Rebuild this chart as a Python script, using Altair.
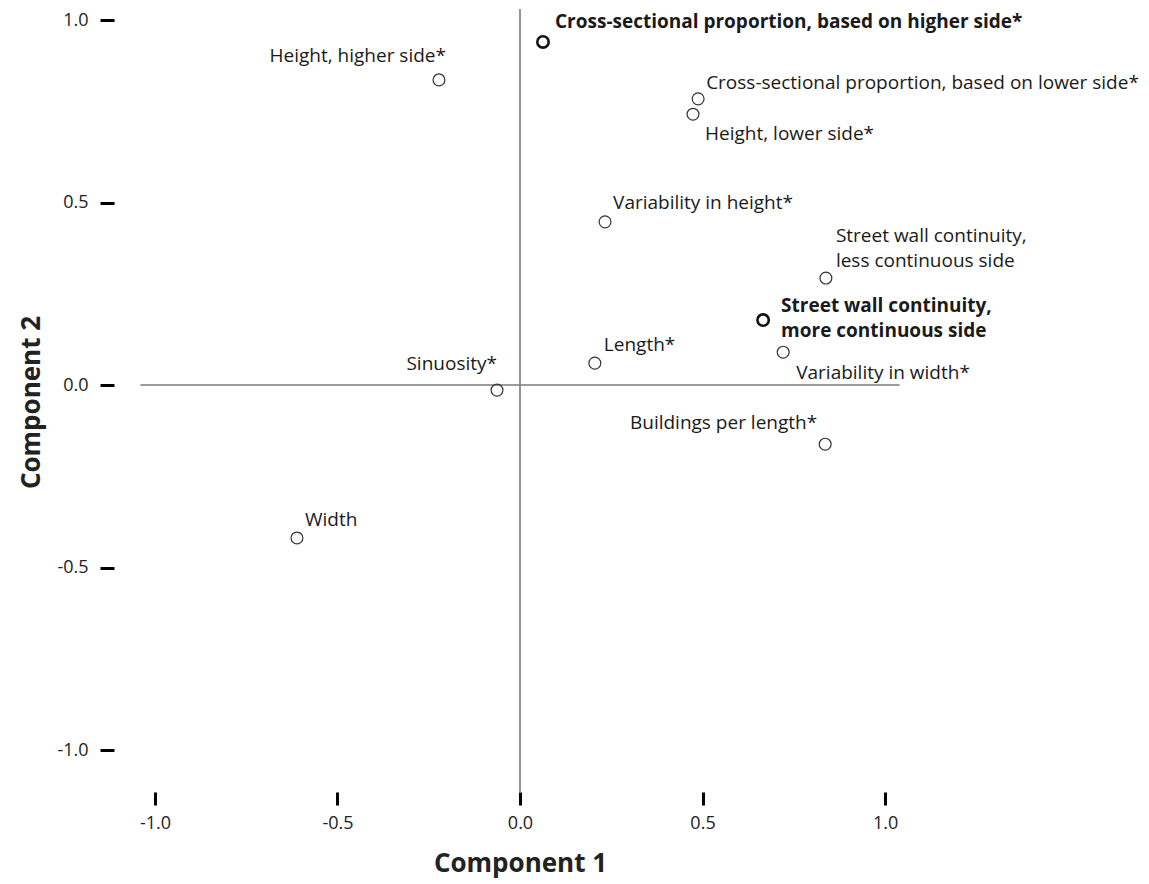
import altair as alt
import pandas as pd

names = [
    "Cross-sectional proportion, based on higher side*",
    "Height, higher side*",
    "Cross-sectional proportion, based on lower side*",
    "Height, lower side*",
    "Variability in height*",
    "Street wall continuity,\nless continuous side",
    "Street wall continuity,\nmore continuous side",
    "Variability in width*",
    "Length*",
    "Sinuosity*",
    "Buildings per length*",
    "Width",
]
comp1 = [0.063, -0.222, 0.488, 0.474, 0.233, 0.838, 0.666, 0.721, 0.205, -0.063, 0.836, -0.611]
comp2 = [0.940, 0.836, 0.784, 0.742, 0.447, 0.293, 0.178, 0.090, 0.060, -0.014, -0.162, -0.419]
bold = [True, False, False, False, False, False, True, False, False, False, False, False]

ticks = [-1.0, -0.5, 0.0, 0.5, 1.0]

# reference lines through the origin
hline_x = [-1.04, 1.04]
vline_y = [-1.115, 1.03]

df = pd.DataFrame({"id": list(range(len(names))), "name": names,
                   "c1": comp1, "c2": comp2, "bold": bold})

FONT = "Open Sans"
LABEL_EXPR = "replace(format(datum.value, '.1f'), '\u2212', '-')"

xscale = alt.Scale(domain=[-1.041, 1.041], nice=False, zero=False)
yscale = alt.Scale(domain=[-1.115, 1.022], nice=False, zero=False)

xaxis = alt.Axis(values=ticks, labelExpr=LABEL_EXPR, domain=False, grid=False,
                 tickSize=13, tickWidth=3, tickColor="black",
                 labelFontSize=18, labelFont=FONT, labelColor="#222",
                 labelPadding=9, title="Component 1", titleFont=FONT,
                 titleFontSize=26, titleFontWeight="bold", titleColor="#222",
                 titlePadding=18)
yaxis = alt.Axis(values=ticks, labelExpr=LABEL_EXPR, domain=False, grid=False,
                 offset=26, tickSize=14, tickWidth=3, tickColor="black",
                 labelFontSize=18, labelFont=FONT, labelColor="#222",
                 labelPadding=12, title="Component 2", titleFont=FONT,
                 titleFontSize=26, titleFontWeight="bold", titleColor="#222",
                 titlePadding=12)

hdf = pd.DataFrame({"x": [hline_x[0]], "x2": [hline_x[1]], "y": [0.0]})
vdf = pd.DataFrame({"y": [vline_y[0]], "y2": [vline_y[1]], "x": [0.0]})

hrule = alt.Chart(hdf).mark_rule(color="#7a7a7a", strokeWidth=1.6, clip=False).encode(
    x=alt.X("x:Q", scale=xscale, axis=xaxis), x2="x2:Q",
    y=alt.Y("y:Q", scale=yscale, axis=yaxis))
vrule = alt.Chart(vdf).mark_rule(color="#7a7a7a", strokeWidth=1.6, clip=False).encode(
    x=alt.X("x:Q", scale=xscale), y=alt.Y("y:Q", scale=yscale), y2="y2:Q")

pts_normal = alt.Chart(df).transform_filter(~alt.datum.bold).mark_point(
    shape="circle", filled=False, size=140, color="#333", strokeWidth=1.2, opacity=1
).encode(x=alt.X("c1:Q", scale=xscale), y=alt.Y("c2:Q", scale=yscale))
pts_bold = alt.Chart(df).transform_filter(alt.datum.bold).mark_point(
    shape="circle", filled=False, size=130, color="#111", strokeWidth=2.6, opacity=1
).encode(x=alt.X("c1:Q", scale=xscale), y=alt.Y("c2:Q", scale=yscale))

# label placement (align, dx, dy) per point, in the same order as names
placement = [
    ("left", 12, -20),
    ("right", 7, -24),
    ("left", 8, -16),
    ("left", 12, 20),
    ("left", 8, -19),
    ("left", 10, -42),
    ("left", 18, -14),
    ("left", 13, 21),
    ("left", 9, -18),
    ("right", 0, -26),
    ("right", -8, -21),
    ("left", 8, -18),
]

labels = []
for i, (al, dx, dy) in enumerate(placement):
    labels.append(
        alt.Chart(df).transform_filter(alt.datum.id == i).mark_text(
            align=al, baseline="middle", dx=dx, dy=dy, font=FONT, fontSize=19,
            fontWeight="bold" if bold[i] else "normal", color="#1a1a1a",
            lineBreak="\n", lineHeight=25
        ).encode(x=alt.X("c1:Q", scale=xscale), y=alt.Y("c2:Q", scale=yscale),
                 text="name:N")
    )

chart = alt.layer(hrule, vrule, pts_normal, pts_bold, *labels).properties(
    width=760, height=780,
    autosize=alt.AutoSizeParams(type="none"),
    padding={"left": 132, "top": 4, "right": 240, "bottom": 88},
).configure_view(stroke=None)

chart.save("out.html", embed_options={"renderer": "svg", "actions": False})
